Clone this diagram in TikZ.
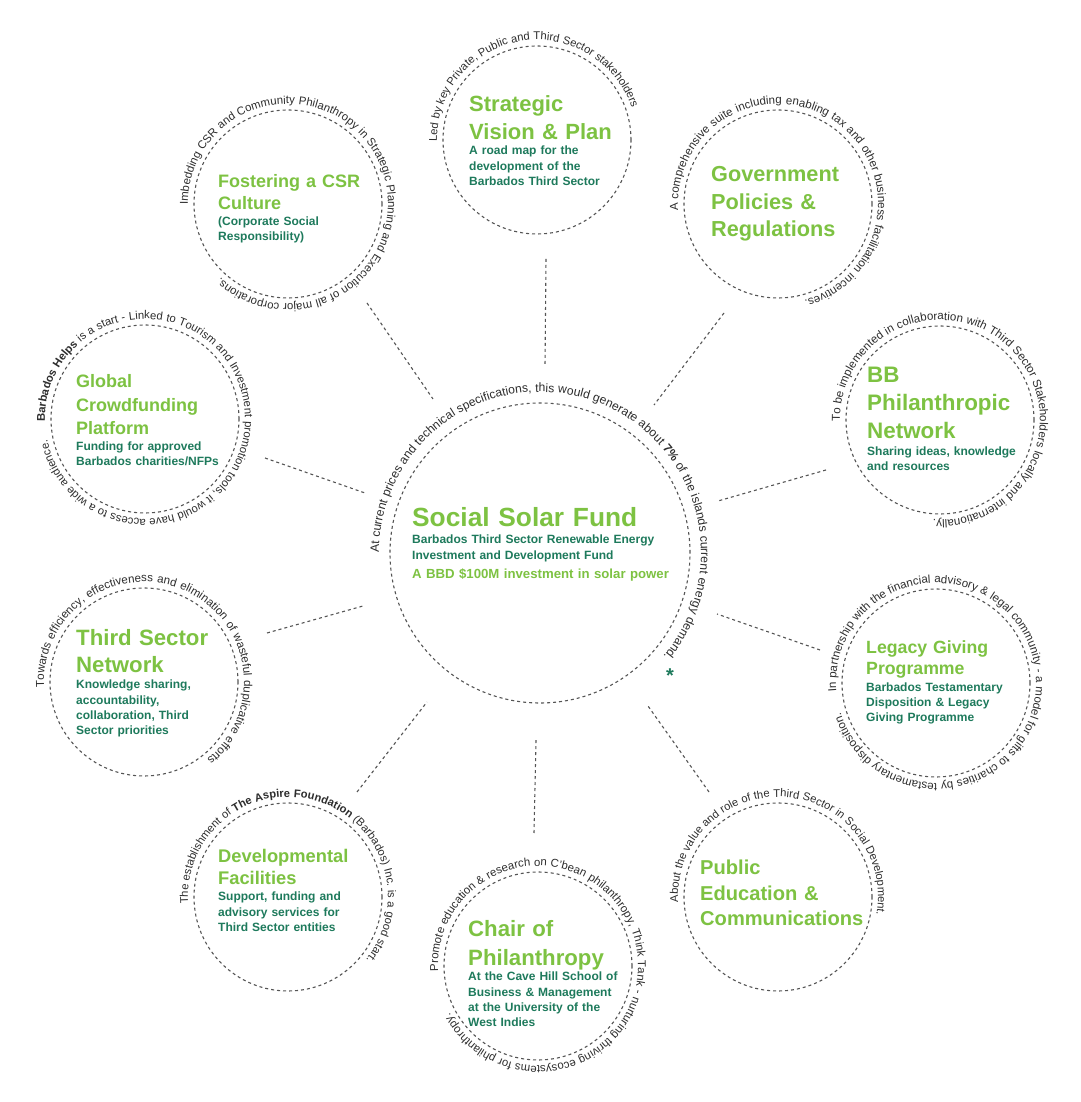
\documentclass[tikz,border=0pt]{standalone}
\usepackage{fontspec}
\setmainfont{Liberation Sans}
\usetikzlibrary{decorations.text}
\definecolor{ttlgreen}{RGB}{125,194,66}
\definecolor{subgreen}{RGB}{30,122,92}
\definecolor{arcgray}{RGB}{45,45,45}
\definecolor{linegray}{RGB}{85,85,85}
\newcommand\myafmt[1]{\fontsize{#1}{13}\selectfont\color{arcgray}}
\newcommand\myarctext[6]{\path[decorate,decoration={text along path,text align={fit to path stretching spaces},text={|\myafmt{#6}|#5}}] ([shift={(#3:#2pt)}]#1.center) arc[start angle=#3,end angle=#4,radius=#2pt];}
\begin{document}
\begin{tikzpicture}[x=1pt,y=1pt,
  ring/.style={circle,draw=linegray,line width=1.1pt,dash pattern=on 3pt off 3pt,inner sep=0pt,minimum size=188},
  bigring/.style={ring,minimum size=300},
  conn/.style={draw=linegray,line width=1.1pt,dash pattern=on 3pt off 3pt},
  ttl/.style={anchor=base west,inner sep=0pt,text width=260,align=left,text=ttlgreen},
  sub/.style={anchor=base west,inner sep=0pt,text width=260,align=left,text=subgreen,font=\bfseries\fontsize{12}{15.2}\selectfont}]
\fill[white] (0,0) rectangle (1080,1102);
\useasboundingbox (0,0) rectangle (1080,1102);
% circles
\node[bigring] (main) at (540,549) {};
\node[ring] (fost) at (288,898) {};
\node[ring] (strat) at (537,962) {};
\node[ring] (gov) at (778,898) {};
\node[ring] (glob) at (145,683) {};
\node[ring] (bb) at (940,682) {};
\node[ring] (third) at (144,420) {};
\node[ring] (legacy) at (936,419) {};
\node[ring] (dev) at (288,205) {};
\node[ring] (chair) at (538,136) {};
\node[ring] (pub) at (778,205) {};
% connectors
\coordinate (c1a) at (367,799); \coordinate (c1b) at (433,703);
\coordinate (c2a) at (546,843); \coordinate (c2b) at (545,736);
\coordinate (c3a) at (724,789); \coordinate (c3b) at (654,697);
\coordinate (c4a) at (265,644); \coordinate (c4b) at (365,609);
\coordinate (c5a) at (826,632); \coordinate (c5b) at (718,601);
\coordinate (c6a) at (267,469); \coordinate (c6b) at (363,496);
\coordinate (c7a) at (820,452); \coordinate (c7b) at (717,488);
\coordinate (c8a) at (357,310); \coordinate (c8b) at (427,400);
\coordinate (c9a) at (534,269); \coordinate (c9b) at (536,362);
\coordinate (c10a) at (709,310); \coordinate (c10b) at (648,396);
\foreach \i in {1,...,10} {\draw[conn] (c\i a) -- (c\i b);}
% titles and subtitles
\node[ttl,font=\bfseries\fontsize{26.3}{30}\selectfont] (mainT) at (412,575) {Social Solar Fund};
\node[sub] (mainS) at (412,558) {Barbados Third Sector Renewable Energy\\Investment and Development Fund};
\node[ttl,font=\bfseries\fontsize{13.2}{15}\selectfont] (mainS2) at (412,523) {A BBD \$100M investment in solar power};
\node[ttl,font=\bfseries\fontsize{18}{22}\selectfont] (fostT) at (218,914) {Fostering a CSR\\Culture};
\node[sub,font=\bfseries\fontsize{12}{14.5}\selectfont] (fostS) at (218,876) {(Corporate Social\\Responsibility)};
\node[ttl,font=\bfseries\fontsize{22}{28}\selectfont] (stratT) at (469,990) {Strategic\\Vision \& Plan};
\node[sub] (stratS) at (469,947) {A road map for the\\development of the\\Barbados Third Sector};
\node[ttl,font=\bfseries\fontsize{21.7}{27.5}\selectfont] (govT) at (711,920) {Government\\Policies \&\\Regulations};
\node[ttl,font=\bfseries\fontsize{18}{23.5}\selectfont] (globT) at (76,714) {Global\\Crowdfunding\\Platform};
\node[sub,font=\bfseries\fontsize{12}{15}\selectfont] (globS) at (76,651) {Funding for approved\\Barbados charities/NFPs};
\node[ttl,font=\bfseries\fontsize{22.4}{28}\selectfont] (bbT) at (867,719) {BB\\Philanthropic\\Network};
\node[sub,font=\bfseries\fontsize{12}{15}\selectfont] (bbS) at (867,646) {Sharing ideas, knowledge\\and resources};
\node[ttl,font=\bfseries\fontsize{22.2}{27}\selectfont] (thirdT) at (76,456) {Third Sector\\Network};
\node[sub] (thirdS) at (76,413) {Knowledge sharing,\\accountability,\\collaboration, Third\\Sector priorities};
\node[ttl,font=\bfseries\fontsize{17.7}{21}\selectfont] (legT) at (866,448) {Legacy Giving\\Programme};
\node[sub,font=\bfseries\fontsize{12}{15}\selectfont] (legS) at (866,410) {Barbados Testamentary\\Disposition \& Legacy\\Giving Programme};
\node[ttl,font=\bfseries\fontsize{18.3}{22}\selectfont] (devT) at (218,239) {Developmental\\Facilities};
\node[sub,font=\bfseries\fontsize{12}{15.5}\selectfont] (devS) at (218,201) {Support, funding and\\advisory services for\\Third Sector entities};
\node[ttl,font=\bfseries\fontsize{22.2}{29}\selectfont] (chairT) at (468,165) {Chair of\\Philanthropy};
\node[sub] (chairS) at (468,121) {At the Cave Hill School of\\Business \& Management\\at the University of the\\West Indies};
\node[ttl,font=\bfseries\fontsize{20.1}{25.5}\selectfont] (pubT) at (700,227) {Public\\Education \&\\Communications};
\node[text=subgreen,font=\bfseries\fontsize{20}{20}\selectfont,inner sep=0pt] (ast) at (670,426) {*};
% arc texts
\myarctext{main}{161}{180}{-40}{At current prices and technical specifications, this would generate about |\myafmt{12.15}\bfseries|7{\%} |\myafmt{12.15}|of the islands current energy demand.}{12.15}
\myarctext{fost}{100}{180.5}{-132.5}{Imbedding CSR and Community Philanthropy in Strategic Planning and Execution of all major corporations.}{11.4}
\myarctext{strat}{100}{181}{18.6}{Led by key Private, Public and Third Sector stakeholders}{11.2}
\myarctext{gov}{100}{184}{-74.7}{A comprehensive suite  including enabling tax and other business facilitation incentives.}{11.55}
\myarctext{glob}{100}{181.5}{-168}{|\myafmt{11.3}\bfseries|Barbados Helps |\myafmt{11.3}|is a start - Linked to Tourism and Investment promotion tools, it would have access to a wide audience.}{11.3}
\myarctext{bb}{100}{181}{-94}{To be implemented in collaboration with Third Sector Stakeholders locally and internationally.}{11.55}
\myarctext{third}{100}{183}{-51}{Towards efficiency, effectiveness  and elimination of wasteful duplicative efforts}{11.55}
\myarctext{legacy}{100}{185}{-162.7}{In partnership with the financial advisory {\&} legal community - a model for gifts to charities by testamentary disposition.}{11.55}
\myarctext{dev}{100}{184}{-38.8}{The establishment of |\myafmt{11.2}\bfseries|The Aspire Foundation |\myafmt{11.2}|(Barbados) Inc. is a good start.}{11.2}
\myarctext{chair}{100}{183}{-152}{Promote education {\&} research on C’bean philanthropy, Think Tank - nurturing thriving ecosystems for philanthropy.}{11.4}
\myarctext{pub}{100}{183}{-10.4}{About the value and role of the Third Sector in Social Development.}{11.2}
\end{tikzpicture}
\end{document}
